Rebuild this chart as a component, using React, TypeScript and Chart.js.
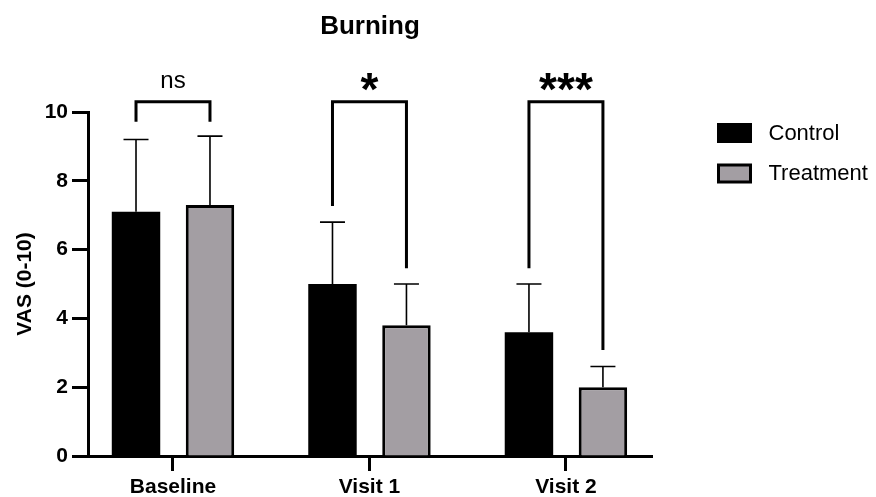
import React, { useEffect, useRef } from 'react';
import { Chart, registerables } from 'chart.js';

Chart.register(...registerables);

const chartTitle = 'Burning';
const yAxisTitle = 'VAS (0-10)';
const categories = ['Baseline', 'Visit 1', 'Visit 2'];
const seriesNames = ['Control', 'Treatment'];
const controlMeans = [7.1, 5.0, 3.6];
const controlErrTop = [9.2, 6.8, 5.0];
const treatmentMeans = [7.3, 3.8, 2.0];
const treatmentErrTop = [9.3, 5.0, 2.6];
const yTicks = [0, 2, 4, 6, 8, 10];
const significance = ['ns', '*', '***'];
const bracketLevel = [10.3, 10.3, 10.3];
const bracketLeftEnd = [9.72, 7.27, 5.46];
const bracketRightEnd = [9.72, 5.46, 3.08];

const FONT = '"Liberation Sans", Arial, Helvetica, sans-serif';
const GREY = '#a39ea3';

function drawCentered(ctx: CanvasRenderingContext2D, text: string, x: number, cy: number) {
  const m = ctx.measureText(text);
  const a = m.actualBoundingBoxAscent;
  const d = m.actualBoundingBoxDescent;
  ctx.textAlign = 'center';
  ctx.textBaseline = 'alphabetic';
  ctx.fillText(text, x, cy + (a - d) / 2);
}

const overlayPlugin = {
  id: 'overlay',
  afterDatasetsDraw(chart: any) {
    const ctx: CanvasRenderingContext2D = chart.ctx;
    const y = chart.scales.y;
    const area = chart.chartArea;
    const errs = [controlErrTop, treatmentErrTop];
    ctx.save();
    // error bars
    ctx.strokeStyle = '#000';
    ctx.lineWidth = 1.6;
    errs.forEach((arr, d) => {
      const meta = chart.getDatasetMeta(d);
      meta.data.forEach((el: any, i: number) => {
        const yt = y.getPixelForValue(arr[i]);
        ctx.beginPath();
        ctx.moveTo(el.x, el.y);
        ctx.lineTo(el.x, yt);
        ctx.moveTo(el.x - 12.5, yt);
        ctx.lineTo(el.x + 12.5, yt);
        ctx.stroke();
      });
    });
    // brackets
    const m0 = chart.getDatasetMeta(0);
    const m1 = chart.getDatasetMeta(1);
    ctx.lineWidth = 3;
    ctx.lineJoin = 'miter';
    categories.forEach((_, i) => {
      const xl = m0.data[i].x;
      const xr = m1.data[i].x;
      const yb = y.getPixelForValue(bracketLevel[i]);
      ctx.beginPath();
      ctx.moveTo(xl, y.getPixelForValue(bracketLeftEnd[i]));
      ctx.lineTo(xl, yb);
      ctx.lineTo(xr, yb);
      ctx.lineTo(xr, y.getPixelForValue(bracketRightEnd[i]));
      ctx.stroke();
      const label = significance[i];
      ctx.fillStyle = '#000';
      ctx.font = label === 'ns' ? `24px ${FONT}` : `bold 46px ${FONT}`;
      drawCentered(ctx, label, (xl + xr) / 2, yb - 20);
    });
    // title
    ctx.font = `bold 26px ${FONT}`;
    ctx.textAlign = 'center';
    ctx.textBaseline = 'alphabetic';
    ctx.fillText(chartTitle, (area.left + area.right) / 2, 34);
    // legend
    const bx = area.right + 65;
    const rows = [area.top + 11, area.top + 51.5];
    ctx.font = `22px ${FONT}`;
    seriesNames.forEach((name, d) => {
      const ds = chart.data.datasets[d];
      const top = rows[d];
      ctx.fillStyle = ds.borderColor;
      ctx.fillRect(bx, top, 35, 20);
      const bw = ds.borderWidth;
      ctx.fillStyle = ds.backgroundColor;
      ctx.fillRect(bx + bw, top + bw, 35 - 2 * bw, 20 - 2 * bw);
      ctx.fillStyle = '#000';
      ctx.textAlign = 'left';
      ctx.textBaseline = 'middle';
      ctx.fillText(name, bx + 51.5, top + 10.5);
    });
    ctx.restore();
  },
};

export default function App() {
  const ref = useRef<HTMLCanvasElement>(null);
  useEffect(() => {
    if (!ref.current) return;
    Chart.defaults.color = '#000';
    const chart = new Chart(ref.current, {
      type: 'bar',
      data: {
        datasets: [
          {
            label: seriesNames[0],
            data: controlMeans.map((v, i) => ({ x: i, y: v })),
            backgroundColor: '#000',
            borderColor: '#000',
            borderWidth: 0,
            borderSkipped: 'start',
          },
          {
            label: seriesNames[1],
            data: treatmentMeans.map((v, i) => ({ x: i, y: v })),
            backgroundColor: GREY,
            borderColor: '#000',
            borderWidth: 3,
            borderSkipped: 'start',
          },
        ],
      },
      options: {
        responsive: false,
        animation: false,
        categoryPercentage: 0.753,
        barPercentage: 0.655,
        layout: { padding: { left: 0, right: 224, top: 112, bottom: 0 } },
        plugins: { legend: { display: false }, tooltip: { enabled: false }, title: { display: false } },
        scales: {
          x: {
            type: 'linear',
            offset: false,
            min: -0.4326,
            max: 2.438,
            afterBuildTicks: (s: any) => {
              s.ticks = categories.map((_, i) => ({ value: i }));
            },
            afterFit: (s: any) => {
              s.height = 41;
            },
            ticks: {
              autoSkip: false,
              maxRotation: 0,
              padding: 4,
              color: '#000',
              font: { family: FONT, size: 21, weight: 'bold' },
              callback: (v: any) => categories[v as number] ?? '',
            },
            grid: { offset: false, drawOnChartArea: false, drawTicks: true, tickLength: 15, tickWidth: 3, tickColor: '#000' },
            border: { display: true, color: '#000', width: 3 },
          },
          y: {
            min: 0,
            max: 10,
            afterBuildTicks: (s: any) => {
              s.ticks = yTicks.map((v) => ({ value: v }));
            },
            afterFit: (s: any) => {
              s.width = 88;
            },
            ticks: {
              padding: 4,
              color: '#000',
              font: { family: FONT, size: 21, weight: 'bold' },
            },
            grid: { drawOnChartArea: false, drawTicks: true, tickLength: 16, tickWidth: 3, tickColor: '#000' },
            border: { display: true, color: '#000', width: 3 },
            title: {
              display: true,
              text: yAxisTitle,
              color: '#000',
              padding: { top: 13, bottom: 0 },
              font: { family: FONT, size: 21, weight: 'bold' },
            },
          },
        },
      },
      plugins: [overlayPlugin],
    } as any);
    return () => chart.destroy();
  }, []);
  return (
    <div style={{ position: 'fixed', left: 0, top: 0, width: 876, height: 497, background: '#fff' }}>
      <canvas ref={ref} width={876} height={497} />
    </div>
  );
}
